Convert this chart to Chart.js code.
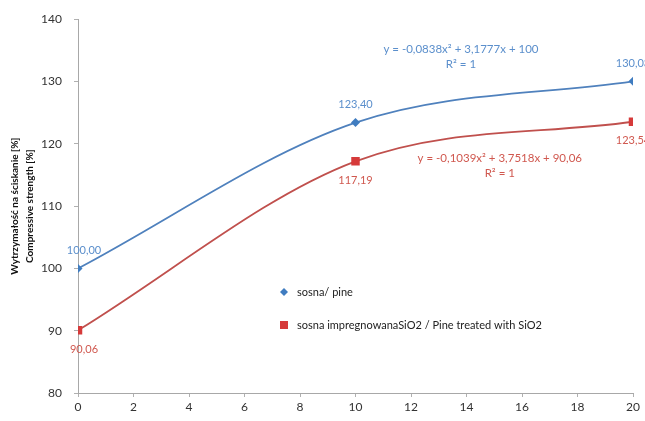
<!DOCTYPE html>
<html>
<head>
<meta charset="utf-8">
<script src="https://cdn.jsdelivr.net/npm/chart.js@4/dist/chart.umd.min.js"></script>
<style>
  html, body { margin: 0; padding: 0; background: #ffffff; }
  #wrap { width: 645px; height: 421px; position: relative; }
</style>
</head>
<body>
<div id="wrap"><canvas id="c" width="645" height="421"></canvas></div>
<script>
// ---- data ----
const xValues = [0, 10, 20];
const pineValues = [100.00, 123.40, 130.03];
const treatedValues = [90.06, 117.19, 123.54];
const seriesNames = ['sosna/ pine', 'sosna impregnowanaSiO2 / Pine treated with SiO2'];
const pineEquation = ['y = -0,0838x² + 3,1777x + 100', 'R² = 1'];
const treatedEquation = ['y = -0,1039x² + 3,7518x + 90,06', 'R² = 1'];
const yAxisTitle = ['Wytrzymałość na ściskanie [%]', 'Compressive strength [%]'];
const yRange = [80, 140];
const xRange = [0, 20];

const BLUE = '#4F81BD';
const RED = '#C0504D';
const BLUE_MARK = '#3f7cc0';
const RED_MARK = '#d63a3a';
const BLUE_TXT = '#5b8fcc';
const RED_TXT = '#d0584f';
const FONT = 'Lato, "Open Sans", sans-serif';

function pts(values) { return xValues.map((x, i) => ({ x: x, y: values[i] })); }
function fmt(v) { return v.toFixed(2).replace('.', ','); }

const labelPlugin = {
  id: 'pointLabels',
  afterDatasetsDraw(chart) {
    const ctx = chart.ctx;
    ctx.save();
    ctx.font = '11px ' + FONT;
    ctx.textAlign = 'center';
    ctx.textBaseline = 'middle';
    chart.data.datasets.forEach((ds, di) => {
      const meta = chart.getDatasetMeta(di);
      meta.data.forEach((el, i) => {
        const v = ds.data[i].y;
        ctx.fillStyle = di === 0 ? BLUE_TXT : RED_TXT;
        const dy = di === 0 ? -18 : 19;
        ctx.fillText(fmt(v), el.x + (i === 0 ? 6 : 0), el.y + dy);
      });
    });
    // equations
    const xs = chart.scales.x, ys = chart.scales.y;
    ctx.font = '11.5px ' + FONT;
    ctx.fillStyle = BLUE_TXT;
    let ex = xs.getPixelForValue(13.8), ey = ys.getPixelForValue(135.1);
    ctx.fillText(pineEquation[0], ex, ey);
    ctx.fillText(pineEquation[1], ex, ey + 15);
    ctx.fillStyle = RED_TXT;
    ex = xs.getPixelForValue(15.2); ey = ys.getPixelForValue(117.7);
    ctx.fillText(treatedEquation[0], ex, ey);
    ctx.fillText(treatedEquation[1], ex, ey + 15);
    ctx.restore();
  }
};

const legendPlugin = {
  id: 'innerLegend',
  afterDraw(chart) {
    const ctx = chart.ctx;
    ctx.save();
    ctx.font = '11px ' + FONT;
    ctx.textBaseline = 'middle';
    ctx.textAlign = 'left';
    const lx = 284;
    const rows = [292, 325];
    ctx.fillStyle = BLUE_MARK;
    ctx.beginPath();
    ctx.moveTo(lx, rows[0] - 4); ctx.lineTo(lx + 4, rows[0]); ctx.lineTo(lx, rows[0] + 4); ctx.lineTo(lx - 4, rows[0]);
    ctx.closePath(); ctx.fill();
    ctx.fillStyle = RED_MARK;
    ctx.fillRect(lx - 4, rows[1] - 4, 8, 8);
    ctx.fillStyle = '#222';
    ctx.fillText(seriesNames[0], lx + 13, rows[0]);
    ctx.fillText(seriesNames[1], lx + 13, rows[1]);
    ctx.restore();
  }
};

new Chart(document.getElementById('c'), {
  type: 'scatter',
  data: {
    datasets: [
      {
        label: seriesNames[0],
        data: pts(pineValues),
        showLine: true,
        cubicInterpolationMode: 'monotone',
        borderColor: BLUE,
        borderWidth: 1.8,
        backgroundColor: BLUE_MARK,
        pointStyle: 'rectRot',
        pointRadius: 4.5,
        pointBorderWidth: 0,
        pointHoverRadius: 4.5
      },
      {
        label: seriesNames[1],
        data: pts(treatedValues),
        showLine: true,
        cubicInterpolationMode: 'monotone',
        borderColor: RED,
        borderWidth: 1.8,
        backgroundColor: RED_MARK,
        pointStyle: 'rect',
        pointRadius: 6,
        pointBorderWidth: 0,
        pointHoverRadius: 6
      }
    ]
  },
  options: {
    responsive: false,
    animation: false,
    events: [],
    layout: { padding: { top: 17, right: 12, left: 0, bottom: 0 } },
    plugins: {
      legend: { display: false },
      tooltip: { enabled: false }
    },
    scales: {
      x: {
        type: 'linear',
        min: xRange[0], max: xRange[1],
        afterFit(s) { s.height = 28; },
        ticks: { stepSize: 2, color: '#333', font: { family: FONT, size: 12 }, padding: 3 },
        grid: { drawOnChartArea: false, drawTicks: true, tickLength: 4, color: '#b0b0b0' },
        border: { color: '#a8a8a8', width: 1 }
      },
      y: {
        type: 'linear',
        min: yRange[0], max: yRange[1],
        afterFit(s) { s.width = 78; },
        ticks: { stepSize: 10, color: '#333', font: { family: FONT, size: 12 }, padding: 12 },
        grid: { drawOnChartArea: false, drawTicks: true, tickLength: 4, color: '#b0b0b0' },
        border: { color: '#a8a8a8', width: 1 },
        title: {
          display: true,
          text: yAxisTitle,
          color: '#111',
          font: { family: FONT, size: 10, weight: 'bold', lineHeight: 1.5 },
          padding: { top: 7, bottom: 0 }
        }
      }
    }
  },
  plugins: [labelPlugin, legendPlugin]
});
</script>
</body>
</html>
